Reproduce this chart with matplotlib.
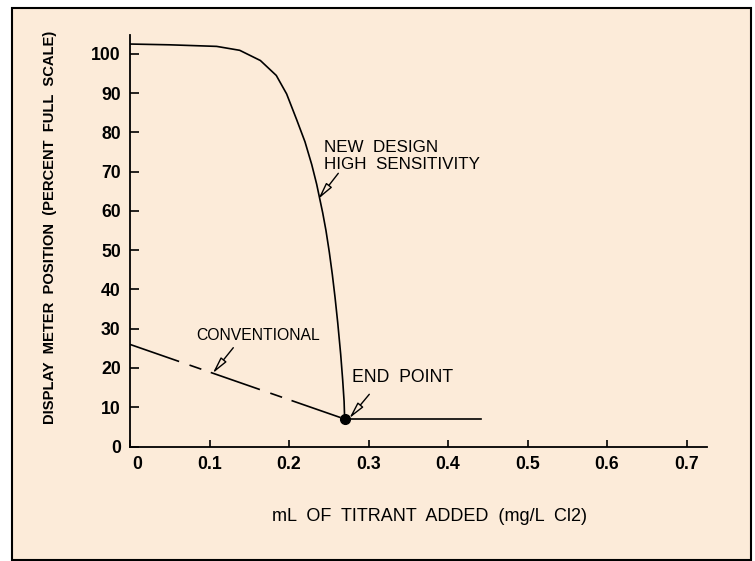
import matplotlib
matplotlib.use("Agg")
import matplotlib.pyplot as plt
import matplotlib.transforms as mtransforms
from matplotlib import font_manager
from matplotlib.patches import Rectangle

# values
new_x = [0.0, 0.05, 0.109, 0.138, 0.164, 0.184, 0.197, 0.2097, 0.2201, 0.2286, 0.2348,
         0.2424, 0.2465, 0.2507, 0.2545, 0.2579, 0.2613, 0.265, 0.2675, 0.2693, 0.270]
new_y = [102.5, 102.3, 101.9, 100.9, 98.3, 94.5, 89.8, 83.2, 77.6, 71.8, 66.8,
         59.5, 55.0, 49.5, 43.8, 38.0, 31.5, 23.5, 17.0, 11.5, 7.0]
conv_x = [0.0, 0.270]
conv_y = [26.0, 7.0]
flat_x = [0.270, 0.442]
flat_y = [7.0, 7.0]
end_point = (0.270, 7.0)

x_ticks = [0, 0.1, 0.2, 0.3, 0.4, 0.5, 0.6, 0.7]
x_tick_labels = ["0", "0.1", "0.2", "0.3", "0.4", "0.5", "0.6", "0.7"]
y_ticks = [0, 10, 20, 30, 40, 50, 60, 70, 80, 90, 100]

BG = "#fcebd9"
W, H = 755, 561

installed = {f.name for f in font_manager.fontManager.ttflist}
narrow = "Liberation Sans Narrow" if "Liberation Sans Narrow" in installed else "Liberation Sans"


def fig_xy(px, py):
    return px / W, (H - py) / H


fig = plt.figure(figsize=(W / 100, H / 100), dpi=100)
fig.patch.set_facecolor("white")
x0, y0 = fig_xy(12, 560)
fig.patches.append(Rectangle((x0, y0), (751 - 12) / W, (560 - 8) / H, transform=fig.transFigure,
                             facecolor=BG, edgecolor="black", linewidth=1.5, zorder=-5))

left, bottom = fig_xy(130, 446.5)
ax = fig.add_axes([left, bottom, (706.7 - 130) / W, (446.5 - 35) / H])
ax.patch.set_visible(False)
ax.set_xlim(0, 0.7254)
ax.set_ylim(0, 104.8)

for side in ("top", "right"):
    ax.spines[side].set_visible(False)
for side in ("left", "bottom"):
    ax.spines[side].set_linewidth(1.3)

ax.set_xticks(x_ticks)
ax.set_xticklabels(x_tick_labels)
ax.set_yticks(y_ticks)
ax.tick_params(axis="x", direction="in", length=5, width=1.2, pad=7)
ax.tick_params(axis="y", direction="in", length=6.5, width=1.2, pad=6.7)
for lab in ax.get_xticklabels() + ax.get_yticklabels():
    lab.set_fontfamily("Liberation Sans")
    lab.set_fontweight("bold")
    lab.set_fontsize(12.7)
# the "0" under the x axis sits a little right of the origin
zero_lab = ax.get_xticklabels()[0]
zero_lab.set_transform(zero_lab.get_transform() + mtransforms.ScaledTranslation(7.5 / 100, 0, fig.dpi_scale_trans))

lw = 1.2
ax.plot(new_x, new_y, color="black", linewidth=lw)
dash = [52, 11, 12.5, 10]  # pixels along the line
ax.plot(conv_x, conv_y, color="black", linewidth=lw,
        linestyle=(0, tuple(d * 0.72 / lw for d in dash)))
ax.plot(flat_x, flat_y, color="black", linewidth=lw)
ax.plot(*end_point, marker="o", markersize=7, color="black")


def data_xy(px, py):
    return (px - 130) / (706.7 - 130) * 0.7254, (446.5 - py) / (446.5 - 35) * 104.8


notes = []
notes.append(ax.text(*data_xy(324, 151.7), "NEW  DESIGN", family=narrow, va="baseline", ha="left"))
notes.append(ax.text(*data_xy(324, 169), "HIGH  SENSITIVITY", family=narrow, va="baseline", ha="left"))
notes.append(ax.text(*data_xy(196, 340), "CONVENTIONAL", family=narrow, va="baseline", ha="left"))
notes.append(ax.text(*data_xy(352.3, 382.3), "END  POINT", family=narrow, va="baseline", ha="left"))
targets = [115, 156, 125, 101]

arrow_props = dict(arrowstyle="-|>,head_length=1.0,head_width=0.22", mutation_scale=10,
                   facecolor=BG, edgecolor="black", linewidth=1.0, shrinkA=0, shrinkB=0)
for start, end in [((338.3, 173.3), (318.3, 199)),
                   ((233.3, 347.7), (212.7, 373.3)),
                   ((369.3, 394.3), (349.3, 418.3))]:
    ax.annotate("", xy=data_xy(*end), xytext=data_xy(*start), arrowprops=arrow_props)

xl = fig.text(*fig_xy(429.5, 520.7), "mL  OF  TITRANT  ADDED  (mg/L  Cl2)", family=narrow,
              ha="center", va="baseline")
yl = fig.text(*fig_xy(50, 227), "DISPLAY  METER  POSITION  (PERCENT  FULL  SCALE)",
              family="Liberation Sans", fontweight="bold", rotation=90, ha="center", va="center")

# size each label so its width matches the reference
renderer = fig.canvas.get_renderer()
for t, target in zip(notes + [xl], targets + [317]):
    t.set_fontsize(14)
    w = t.get_window_extent(renderer).width
    t.set_fontsize(14 * target / w)
yl.set_fontsize(14)
h = yl.get_window_extent(renderer).height
yl.set_fontsize(14 * 395 / h)

fig.savefig("out.png", dpi=100, facecolor="white")
